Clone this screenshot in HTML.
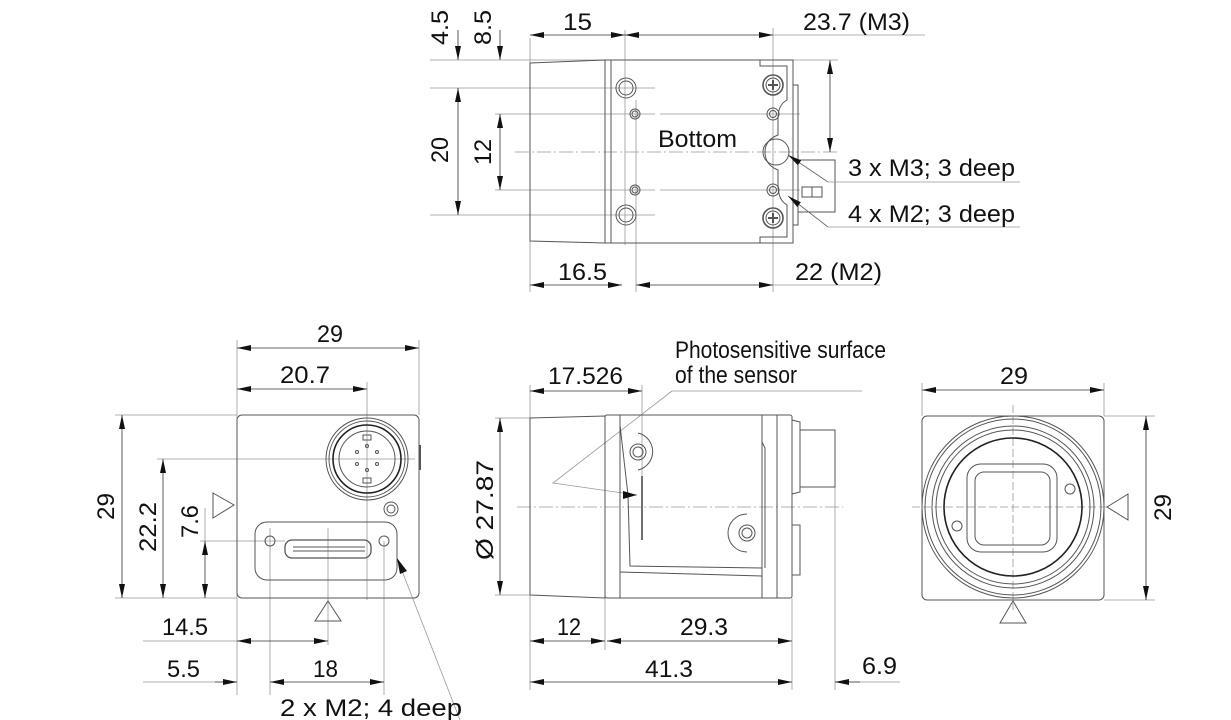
<!DOCTYPE html>
<html><head><meta charset="utf-8"><style>
html,body{margin:0;padding:0;background:#fff;}
svg{display:block;}
text{font-family:"Liberation Sans",sans-serif;fill:#111;font-size:24px;}
</style></head><body>
<svg width="1231" height="720" viewBox="0 0 1231 720" xmlns="http://www.w3.org/2000/svg">
<defs>
<marker id="a" viewBox="0 0 14 6" refX="14" refY="3" markerWidth="14" markerHeight="6" markerUnits="userSpaceOnUse" orient="auto-start-reverse"><path d="M0,0 L14,3 L0,6 z" fill="#111"/></marker>
</defs>
<g fill="none" stroke="#999" stroke-width="0.8">
<line x1="430" y1="60" x2="605" y2="60"/>
<line x1="430" y1="88" x2="655" y2="88"/>
<line x1="495" y1="114" x2="655" y2="114"/>
<line x1="495" y1="190" x2="655" y2="190"/>
<line x1="430" y1="215" x2="655" y2="215"/>
<line x1="793" y1="60" x2="838" y2="60"/>
<line x1="530" y1="38" x2="530" y2="292"/>
<line x1="625" y1="30" x2="625" y2="245"/>
<line x1="636" y1="100" x2="636" y2="292"/>
<line x1="773" y1="28" x2="773" y2="292"/>
<line x1="773" y1="35" x2="925" y2="35"/>
<line x1="773" y1="285" x2="880" y2="285"/>
<line x1="515" y1="152" x2="840" y2="152" stroke-dasharray="14,3,2,3"/>
<line x1="660" y1="114" x2="800" y2="114"/>
<line x1="660" y1="190" x2="800" y2="190"/>
</g>
<g fill="none" stroke="#555" stroke-width="1">
<path d="M530,63 L605,60 L605,243 L530,241 Z"/>
<path d="M605,60 L793,60 L793,243 L605,243 Z"/>
<line x1="611" y1="60" x2="611" y2="243"/>
<path d="M760,60 L760,66 L787,66 L787,100 Q778,105 778,118 L778,135 Q765,140 765,152 Q765,165 778,170 L778,185 Q778,200 787,205 L787,237 L760,237 L760,243"/>
<path d="M793,85 L798,85 L798,225 L793,225"/>
<path d="M798,160 L835,160 L835,212 L798,212"/>
<rect x="802" y="187" width="20" height="10"/>
<line x1="812" y1="187" x2="812" y2="197"/>
<circle cx="626" cy="88" r="10"/><circle cx="626" cy="88" r="7"/>
<circle cx="626" cy="215" r="10"/><circle cx="626" cy="215" r="7"/>
<circle cx="635" cy="114" r="5"/><circle cx="635" cy="114" r="3"/>
<circle cx="635" cy="190" r="5"/><circle cx="635" cy="190" r="3"/>
<circle cx="773" cy="85" r="10" stroke-width="1.6"/><circle cx="773" cy="85" r="7"/>
<circle cx="773" cy="218" r="10" stroke-width="1.6"/><circle cx="773" cy="218" r="7"/>
<circle cx="773" cy="114" r="6"/><circle cx="773" cy="114" r="3.5"/>
<circle cx="773" cy="190" r="6"/><circle cx="773" cy="190" r="3.5"/>
<circle cx="776" cy="152" r="13"/>
<path d="M768,85 h10 M773,80 v10 M768,218 h10 M773,213 v10" stroke-width="2"/>
</g>
<g fill="none" stroke="#333" stroke-width="0.8">
<line x1="458" y1="30" x2="458" y2="60" marker-end="url(#a)"/>
<line x1="458" y1="88" x2="458" y2="215" marker-start="url(#a)" marker-end="url(#a)"/>
<line x1="500" y1="30" x2="500" y2="60" marker-end="url(#a)"/>
<line x1="500" y1="114" x2="500" y2="190" marker-start="url(#a)" marker-end="url(#a)"/>
<line x1="530" y1="35" x2="625" y2="35" marker-start="url(#a)" marker-end="url(#a)"/>
<line x1="625" y1="35" x2="773" y2="35" marker-start="url(#a)" marker-end="url(#a)"/>
<line x1="530" y1="285" x2="622" y2="285" marker-start="url(#a)" marker-end="url(#a)"/>
<line x1="636" y1="285" x2="773" y2="285" marker-start="url(#a)" marker-end="url(#a)"/>
<line x1="830" y1="60" x2="830" y2="152" marker-start="url(#a)" marker-end="url(#a)"/>
<polyline points="828,182 1020,182" stroke="#999"/>
<polyline points="828,182 788,155" marker-end="url(#a)" stroke="#666"/>
<polyline points="828,227 1020,227" stroke="#999"/>
<polyline points="828,227 788,196" marker-end="url(#a)" stroke="#666"/>
</g>
<text x="563" y="30" textLength="29" lengthAdjust="spacingAndGlyphs">15</text>
<text x="803" y="30" textLength="107" lengthAdjust="spacingAndGlyphs">23.7 (M3)</text>
<text x="558" y="280" textLength="49" lengthAdjust="spacingAndGlyphs">16.5</text>
<text x="795" y="280" textLength="87" lengthAdjust="spacingAndGlyphs">22 (M2)</text>
<text x="658" y="147" textLength="79" lengthAdjust="spacingAndGlyphs">Bottom</text>
<text x="848" y="176" textLength="167" lengthAdjust="spacingAndGlyphs">3 x M3; 3 deep</text>
<text x="848" y="222" textLength="167" lengthAdjust="spacingAndGlyphs">4 x M2; 3 deep</text>
<text transform="translate(448,45) rotate(-90)" textLength="35" lengthAdjust="spacingAndGlyphs">4.5</text>
<text transform="translate(491,45) rotate(-90)" textLength="35" lengthAdjust="spacingAndGlyphs">8.5</text>
<text transform="translate(448,163) rotate(-90)" textLength="26" lengthAdjust="spacingAndGlyphs">20</text>
<text transform="translate(491,165) rotate(-90)" textLength="26" lengthAdjust="spacingAndGlyphs">12</text>

<g fill="none" stroke="#999" stroke-width="0.8">
<line x1="237" y1="340" x2="237" y2="695"/>
<line x1="419" y1="340" x2="419" y2="415"/>
<line x1="367" y1="382" x2="367" y2="600"/>
<line x1="115" y1="415" x2="237" y2="415"/>
<line x1="157" y1="459" x2="415" y2="459"/>
<line x1="200" y1="541" x2="285" y2="541"/>
<line x1="115" y1="598" x2="237" y2="598"/>
<line x1="205" y1="508" x2="205" y2="541"/>
<line x1="328" y1="528" x2="328" y2="645"/>
<line x1="270" y1="528" x2="270" y2="695"/>
<line x1="384" y1="541" x2="384" y2="695"/>
<line x1="143" y1="641" x2="237" y2="641"/>
<line x1="143" y1="682" x2="237" y2="682"/>
<line x1="397" y1="558" x2="460" y2="720"/>
</g>
<g fill="none" stroke="#555" stroke-width="1">
<rect x="237" y="415" width="182" height="183" rx="5"/>
<circle cx="367" cy="459" r="41"/><circle cx="367" cy="459" r="38"/>
<circle cx="367" cy="459" r="34" stroke="#222" stroke-width="1.6"/>
<circle cx="367" cy="459" r="28"/>
<rect x="363" y="435" width="8" height="5"/><rect x="363" y="478" width="8" height="5"/>
<circle cx="367" cy="446" r="1.5"/><circle cx="357" cy="452" r="1.5"/><circle cx="377" cy="452" r="1.5"/>
<circle cx="357" cy="464" r="1.5"/><circle cx="377" cy="464" r="1.5"/><circle cx="367" cy="470" r="1.5"/>
<circle cx="391" cy="509" r="7"/><circle cx="391" cy="509" r="4"/>
<rect x="255" y="522" width="142" height="58" rx="12"/>
<rect x="285" y="540" width="86" height="18" rx="7" stroke-width="1.3"/>
<line x1="293" y1="547" x2="365" y2="547"/>
<line x1="293" y1="551" x2="365" y2="551"/>
<circle cx="270" cy="541" r="5"/><circle cx="384" cy="541" r="5"/>
<path d="M213,493 L234,505 L213,518 Z"/>
<path d="M328,601 L315,621 L341,621 Z"/>
<line x1="420" y1="445" x2="420" y2="470" stroke-width="2"/>
</g>
<g fill="none" stroke="#333" stroke-width="0.8">
<line x1="237" y1="348" x2="419" y2="348" marker-start="url(#a)" marker-end="url(#a)"/>
<line x1="237" y1="389" x2="367" y2="389" marker-start="url(#a)" marker-end="url(#a)"/>
<line x1="122" y1="415" x2="122" y2="598" marker-start="url(#a)" marker-end="url(#a)"/>
<line x1="163" y1="459" x2="163" y2="598" marker-start="url(#a)" marker-end="url(#a)"/>
<line x1="205" y1="541" x2="205" y2="598" marker-start="url(#a)" marker-end="url(#a)"/>
<line x1="237" y1="641" x2="328" y2="641" marker-start="url(#a)" marker-end="url(#a)"/>
<line x1="215" y1="682" x2="237" y2="682" marker-end="url(#a)"/>
<line x1="270" y1="682" x2="384" y2="682" marker-start="url(#a)" marker-end="url(#a)"/>
</g>
<path d="M397,558 L400,574 L407,571 Z" fill="#111"/>
<text x="317" y="342" textLength="26" lengthAdjust="spacingAndGlyphs">29</text>
<text x="280" y="383" textLength="50" lengthAdjust="spacingAndGlyphs">20.7</text>
<text x="162" y="635" textLength="46" lengthAdjust="spacingAndGlyphs">14.5</text>
<text x="167" y="677" textLength="33" lengthAdjust="spacingAndGlyphs">5.5</text>
<text x="313" y="677" textLength="25" lengthAdjust="spacingAndGlyphs">18</text>
<text x="280" y="716" textLength="182" lengthAdjust="spacingAndGlyphs">2 x M2; 4 deep</text>
<text transform="translate(114,520) rotate(-90)" textLength="27" lengthAdjust="spacingAndGlyphs">29</text>
<text transform="translate(156,552) rotate(-90)" textLength="50" lengthAdjust="spacingAndGlyphs">22.2</text>
<text transform="translate(198,538) rotate(-90)" textLength="33" lengthAdjust="spacingAndGlyphs">7.6</text>

<g fill="none" stroke="#999" stroke-width="0.8">
<line x1="495" y1="418" x2="530" y2="418"/>
<line x1="495" y1="595" x2="530" y2="595"/>
<line x1="530" y1="385" x2="530" y2="690"/>
<line x1="642" y1="385" x2="642" y2="500"/>
<line x1="605" y1="598" x2="605" y2="650"/>
<line x1="792" y1="598" x2="792" y2="690"/>
<line x1="835" y1="430" x2="835" y2="690"/>
<line x1="835" y1="682" x2="900" y2="682"/>
<line x1="517" y1="507" x2="843" y2="507" stroke-dasharray="14,3,2,3"/>
<line x1="672" y1="391" x2="862" y2="391"/>
<polyline points="672,391 553,483 637,495"/>
</g>
<g fill="none" stroke="#555" stroke-width="1">
<path d="M530,418 L605,416 L605,598 L530,595 Z"/>
<rect x="605" y="415" width="187" height="183" rx="2"/>
<line x1="620" y1="415" x2="620" y2="598"/>
<line x1="762" y1="415" x2="762" y2="598"/>
<line x1="777" y1="415" x2="777" y2="598"/>
<path d="M620,425 L628,495 L630,566 L762,568"/>
<path d="M620,572 L762,576"/>
<path d="M762,442 L765,448 L765,568"/>
<path d="M792,420 L800,422 L800,492 L792,494"/>
<path d="M800,430 L835,430 L835,487 L800,487"/>
<path d="M792,525 L800,525 L800,575 L792,575"/>
<circle cx="638" cy="452" r="8"/><circle cx="638" cy="452" r="5"/>
<path d="M638,433 A19,19 0 0 1 638,470"/>
<circle cx="747" cy="533" r="8"/><circle cx="747" cy="533" r="5"/>
<path d="M747,514 A19,19 0 0 0 747,552"/>
</g>
<line x1="642" y1="476" x2="642" y2="540" stroke="#111" stroke-width="1.2"/>
<path d="M623,491 L637,495 L623,499 Z" fill="#111"/>
<g fill="none" stroke="#333" stroke-width="0.8">
<line x1="500" y1="418" x2="500" y2="595" marker-start="url(#a)" marker-end="url(#a)"/>
<line x1="530" y1="391" x2="642" y2="391" marker-start="url(#a)" marker-end="url(#a)"/>
<line x1="530" y1="641" x2="605" y2="641" marker-start="url(#a)" marker-end="url(#a)"/>
<line x1="607" y1="641" x2="792" y2="641" marker-start="url(#a)" marker-end="url(#a)"/>
<line x1="530" y1="682" x2="792" y2="682" marker-start="url(#a)" marker-end="url(#a)"/>
<line x1="860" y1="682" x2="835" y2="682" marker-end="url(#a)"/>
</g>
<text x="675" y="358" font-size="20" textLength="211" lengthAdjust="spacingAndGlyphs">Photosensitive surface</text>
<text x="675" y="383" font-size="20" textLength="122" lengthAdjust="spacingAndGlyphs">of the sensor</text>
<text x="548" y="384" textLength="75" lengthAdjust="spacingAndGlyphs">17.526</text>
<text x="557" y="635" textLength="24" lengthAdjust="spacingAndGlyphs">12</text>
<text x="680" y="635" textLength="48" lengthAdjust="spacingAndGlyphs">29.3</text>
<text x="645" y="677" textLength="48" lengthAdjust="spacingAndGlyphs">41.3</text>
<text x="862" y="674" textLength="35" lengthAdjust="spacingAndGlyphs">6.9</text>
<text transform="translate(493,560) rotate(-90)" textLength="100" lengthAdjust="spacingAndGlyphs">Ø 27.87</text>

<g fill="none" stroke="#999" stroke-width="0.8">
<line x1="922" y1="383" x2="922" y2="416"/>
<line x1="1104" y1="383" x2="1104" y2="416"/>
<line x1="1104" y1="416" x2="1155" y2="416"/>
<line x1="1104" y1="600" x2="1155" y2="600"/>
<line x1="1013" y1="405" x2="1013" y2="610" stroke-dasharray="8,3"/>
<line x1="912" y1="507" x2="1110" y2="507" stroke-dasharray="8,3"/>
</g>
<g fill="none" stroke="#555" stroke-width="1">
<rect x="922" y="416" width="182" height="184" rx="5"/>
<circle cx="1013" cy="507" r="91"/><circle cx="1013" cy="507" r="88"/>
<circle cx="1013" cy="507" r="81"/><circle cx="1013" cy="507" r="77"/>
<circle cx="1013" cy="507" r="69" stroke="#222" stroke-width="1.6"/>
<rect x="967" y="464" width="90" height="88" rx="14"/>
<rect x="975" y="472" width="75" height="73" rx="9"/>
<circle cx="1070" cy="489" r="5"/><circle cx="957" cy="526" r="5"/>
<path d="M1107,507 L1128,494 L1128,520 Z"/>
<path d="M1013,601 L1000,623 L1026,623 Z"/>
</g>
<g fill="none" stroke="#333" stroke-width="0.8">
<line x1="922" y1="390" x2="1104" y2="390" marker-start="url(#a)" marker-end="url(#a)"/>
<line x1="1146" y1="416" x2="1146" y2="600" marker-start="url(#a)" marker-end="url(#a)"/>
</g>
<text x="1000" y="384" textLength="28" lengthAdjust="spacingAndGlyphs">29</text>
<text transform="translate(1171,521) rotate(-90)" textLength="27" lengthAdjust="spacingAndGlyphs">29</text>
</svg>
</body></html>
